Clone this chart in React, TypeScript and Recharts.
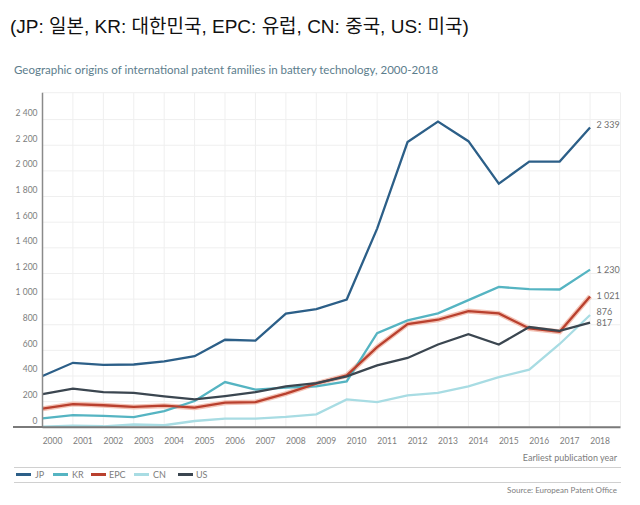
import React from 'react';
import { LineChart, Line, XAxis, YAxis, CartesianGrid } from 'recharts';

const years = [2000, 2001, 2002, 2003, 2004, 2005, 2006, 2007, 2008, 2009, 2010, 2011, 2012, 2013, 2014, 2015, 2016, 2017, 2018];
const jp = [400, 503, 487, 490, 515, 555, 683, 676, 887, 922, 997, 1550, 2225, 2385, 2232, 1900, 2073, 2073, 2339];
const kr = [70, 95, 89, 80, 127, 205, 353, 294, 309, 319, 358, 735, 834, 889, 992, 1095, 1078, 1075, 1230];
const epc = [145, 181, 172, 159, 169, 153, 192, 197, 262, 340, 405, 626, 805, 839, 906, 888, 771, 745, 1021];
const cn = [6, 13, 8, 22, 16, 49, 68, 68, 81, 101, 218, 197, 249, 268, 320, 392, 449, 650, 876];
const us = [258, 302, 275, 268, 242, 218, 244, 275, 319, 345, 397, 483, 541, 646, 726, 646, 782, 752, 817];
const yTicks = [0, 200, 400, 600, 800, 1000, 1200, 1400, 1600, 1800, 2000, 2200, 2400];

const title = '(JP: 일본, KR: 대한민국, EPC: 유럽, CN: 중국, US: 미국)';
const subtitle = 'Geographic origins of international patent families in battery technology, 2000-2018';

const data = years.map((y, i) => ({ year: y, JP: jp[i], KR: kr[i], EPC: epc[i], CN: cn[i], US: us[i] }));

const series = [
  { key: 'JP', color: '#2c5f88', labelDy: -3 },
  { key: 'KR', color: '#55b4c2', labelDy: 0 },
  { key: 'EPC', color: '#b9402e', labelDy: -1 },
  { key: 'CN', color: '#a8dce3', labelDy: -3.5 },
  { key: 'US', color: '#3b4650', labelDy: 0 },
];

const fmt = (v: number) => String(v).replace(/\B(?=(\d{3})+(?!\d))/g, ' ');
const FONT = 'Lato, "Open Sans", sans-serif';
const GRAY = '#7d7d7d';

const YTick = (props: any) => (
  <text x={props.x} y={props.y - 6.6} dy="0.35em" textAnchor="end" fontSize={8.5} fill={GRAY} fontFamily={FONT}>
    {fmt(props.payload.value)}
  </text>
);

const XTick = (props: any) => (
  <text x={props.x + 10} y={props.y + 13.5} dy="0.35em" textAnchor="middle" fontSize={8.5} fill={GRAY} fontFamily={FONT}>
    {props.payload.value}
  </text>
);

const endLabel = (dy: number) => (props: any) => {
  if (props.index !== years.length - 1) return null;
  return (
    <text x={props.x + 6.5} y={props.y + dy} dy="0.35em" textAnchor="start" fontSize={9} fill="#6f6f6f" fontFamily={FONT}>
      {fmt(props.value)}
    </text>
  );
};

const legendItems = [
  { key: 'JP', color: '#2c5f88', sw: 16, tx: 35 },
  { key: 'KR', color: '#55b4c2', sw: 53, tx: 72 },
  { key: 'EPC', color: '#b9402e', sw: 91, tx: 109 },
  { key: 'CN', color: '#a8dce3', sw: 134, tx: 153 },
  { key: 'US', color: '#3b4650', sw: 178, tx: 196 },
];

export default function App() {
  return (
    <div style={{ position: 'absolute', left: 0, top: 0, width: 640, height: 505, background: '#fff', overflow: 'hidden' }}>
      <div style={{ position: 'absolute', left: 10, top: 14, fontSize: 19, lineHeight: '26px', color: '#111', fontFamily: '"Liberation Sans", Arial, "Noto Sans CJK KR", sans-serif', whiteSpace: 'nowrap' }}>
        {title}
      </div>
      <div style={{ position: 'absolute', left: 14, top: 62, fontSize: 11.5, lineHeight: '15px', color: '#5c7d8c', fontFamily: FONT, whiteSpace: 'nowrap' }}>
        {subtitle}
      </div>
      <LineChart width={640} height={505} data={data} margin={{ top: 92.7, right: 19.5, bottom: 47.7, left: 0.5 }} style={{ position: 'absolute', left: 0, top: 0 }}>
        <CartesianGrid stroke="#efefef" strokeWidth={1} />
        <XAxis dataKey="year" type="number" domain={[2000, 2019]} ticks={years} interval={0} height={30} tickLine={false} tickSize={0} tickMargin={0} axisLine={{ stroke: '#7a7a7a', strokeWidth: 2 }} tick={<XTick />} allowDecimals={false} />
        <YAxis type="number" domain={[0, 2610]} ticks={yTicks} interval={0} width={42} tickLine={false} tickSize={0} tickMargin={5} axisLine={{ stroke: '#8a8a8a', strokeWidth: 1.5 }} tick={<YTick />} allowDataOverflow />
        <Line dataKey="EPC" stroke="#f3c3b6" strokeWidth={5} dot={false} isAnimationActive={false} legendType="none" />
        {series.map((s) => (
          <Line key={s.key} dataKey={s.key} stroke={s.color} strokeWidth={2.3} dot={false} isAnimationActive={false} label={endLabel(s.labelDy)} />
        ))}
      </LineChart>
      <div style={{ position: 'absolute', left: 13, top: 426.3, width: 30, height: 2, background: '#7a7a7a' }} />
      <div style={{ position: 'absolute', right: 23, top: 452, fontSize: 9, lineHeight: '12px', color: GRAY, fontFamily: FONT, whiteSpace: 'nowrap' }}>
        Earliest publication year
      </div>
      <div style={{ position: 'absolute', left: 14, top: 466.5, width: 607, height: 1, background: '#d0d0d0' }} />
      {legendItems.map((l) => (
        <React.Fragment key={l.key}>
          <div style={{ position: 'absolute', left: l.sw, top: 473, width: 15, height: 3, background: l.color }} />
          <div style={{ position: 'absolute', left: l.tx, top: 468.5, fontSize: 9, lineHeight: '12px', color: GRAY, fontFamily: FONT, whiteSpace: 'nowrap' }}>
            {l.key}
          </div>
        </React.Fragment>
      ))}
      <div style={{ position: 'absolute', left: 14, top: 481.5, width: 607, height: 1, background: '#d0d0d0' }} />
      <div style={{ position: 'absolute', right: 23, top: 485, fontSize: 8, lineHeight: '11px', color: GRAY, fontFamily: FONT, whiteSpace: 'nowrap' }}>
        Source: European Patent Office
      </div>
    </div>
  );
}
